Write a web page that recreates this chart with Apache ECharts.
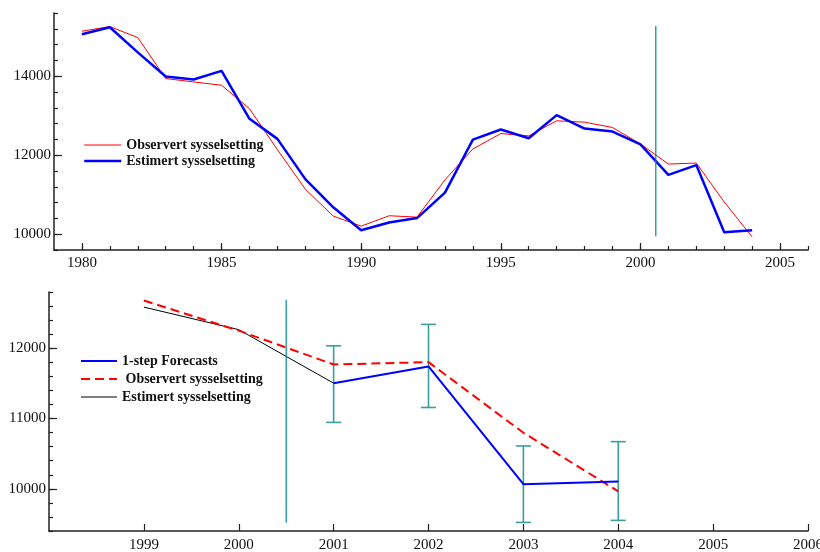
<!DOCTYPE html>
<html>
<head>
<meta charset="utf-8">
<script src="https://cdn.jsdelivr.net/npm/echarts@6/dist/echarts.min.js"></script>
<style>html,body{margin:0;padding:0;background:#fff}#c{width:820px;height:552px}</style>
</head>
<body>
<div id="c"></div>
<script>
// ---------- data ----------
const yearsTop = [1980,1981,1982,1983,1984,1985,1986,1987,1988,1989,1990,1991,1992,1993,1994,1995,1996,1997,1998,1999,2000,2001,2002,2003,2004];
const observertTop = [15139,15257,14977,13941,13855,13771,13177,12140,11139,10459,10204,10467,10433,11376,12158,12548,12489,12871,12836,12701,12285,11776,11801,10815,9932];
const estimertTop  = [15063,15240,14604,13992,13916,14136,12922,12413,11394,10680,10102,10298,10408,11052,12395,12650,12429,13014,12675,12599,12276,11503,11750,10051,10102];
const splitTop = [[2000.55, 15270], [2000.55, 9950]];

const yearsObsBottom = [1999,2000,2001,2002,2003,2004];
const observertBottom = [12679,12250,11769,11802,10798,9964];
const yearsEstBottom = [1999,2000,2001];
const estimertBottom = [12585,12264,11503];
const yearsFc = [2001,2002,2003,2004];
const forecasts = [11503,11741,10066,10105];
const errLow  = [10945,11157,9522,9551];
const errHigh = [12034,12339,10610,10671];
const splitBottom = [[2000.5, 12688], [2000.5, 9517]];

const topXLabels = [1980,1985,1990,1995,2000,2005];
const topXMinor = [1980,1981,1982,1983,1984,1985,1986,1987,1988,1989,1990,1991,1992,1993,1994,1995,1996,1997,1998,1999,2000,2001,2002,2003,2004,2005,2006];
const topYLabels = [10000,12000,14000];
const botXLabels = [1999,2000,2001,2002,2003,2004,2005,2006];
const botYLabels = [10000,11000,12000];

// ---------- helpers ----------
const zip = (xs, ys) => xs.map((x, i) => [x, ys[i]]);
const axisCol = '#222';
const serif = '"Liberation Serif", "DejaVu Serif", serif';
const labelStyle = {color: '#111', fontFamily: serif, fontSize: 15};
const legendText = {fontFamily: serif, fontWeight: 'bold', fontSize: 14, color: '#111', lineHeight: 14};

const chart = echarts.init(document.getElementById('c'), null, {renderer: 'canvas'});
chart.setOption({
  animation: false,
  backgroundColor: '#fff',
  grid: [
    {left: 54, top: 13, width: 754, height: 237, outerBoundsMode: 'none', containLabel: false},
    {left: 49, top: 292, width: 759, height: 239, outerBoundsMode: 'none', containLabel: false}
  ],
  xAxis: [
    {gridIndex: 0, type: 'value', min: 1979, max: 2006, splitLine: {show: false},
     axisLine: {lineStyle: {color: axisCol, width: 1.5}},
     axisTick: {inside: true, length: 7, customValues: topXLabels, lineStyle: {color: axisCol, width: 1.2}},
     axisLabel: {customValues: topXLabels, margin: 6, ...labelStyle, formatter: v => String(v)}},
    {gridIndex: 0, type: 'value', min: 1979, max: 2006, splitLine: {show: false}, position: 'bottom',
     axisLine: {show: false}, axisLabel: {show: false},
     axisTick: {inside: true, length: 4, customValues: topXMinor, lineStyle: {color: axisCol, width: 1.2}}},
    {gridIndex: 1, type: 'value', min: 1998, max: 2006, splitLine: {show: false},
     axisLine: {lineStyle: {color: axisCol, width: 1.5}},
     axisTick: {inside: true, length: 7, customValues: botXLabels, lineStyle: {color: axisCol, width: 1.2}},
     axisLabel: {customValues: botXLabels, margin: 7, ...labelStyle, formatter: v => String(v)}}
  ],
  yAxis: [
    {gridIndex: 0, type: 'value', min: 9600, max: 15600, splitLine: {show: false}, position: 'left',
     axisLine: {show: true, lineStyle: {color: axisCol, width: 1.5}},
     axisTick: {show: true, inside: true, length: 8, customValues: topYLabels, lineStyle: {color: axisCol, width: 1.2}},
     axisLabel: {customValues: topYLabels, margin: 3, ...labelStyle, formatter: v => String(v)}},
    {gridIndex: 0, type: 'value', min: 9600, max: 15600, interval: 400, splitLine: {show: false}, position: 'left',
     axisLine: {show: false}, axisLabel: {show: false},
     axisTick: {show: true, inside: true, length: 4, lineStyle: {color: axisCol, width: 1.2}}},
    {gridIndex: 1, type: 'value', min: 9400, max: 12800, splitLine: {show: false}, position: 'left',
     axisLine: {show: true, lineStyle: {color: axisCol, width: 1.5}},
     axisTick: {show: true, inside: true, length: 8, customValues: botYLabels, lineStyle: {color: axisCol, width: 1.2}},
     axisLabel: {customValues: botYLabels, margin: 3, ...labelStyle, formatter: v => String(v)}},
    {gridIndex: 1, type: 'value', min: 9400, max: 12800, interval: 200, splitLine: {show: false}, position: 'left',
     axisLine: {show: false}, axisLabel: {show: false},
     axisTick: {show: true, inside: true, length: 4, lineStyle: {color: axisCol, width: 1.2}}}
  ],
  legend: [
    {orient: 'vertical', left: 83, top: 138, padding: 0, itemWidth: 37, itemHeight: 14, itemGap: 2,
     itemStyle: {opacity: 0},
     data: [{name: 'Observert sysselsetting', lineStyle: {width: 1}},
            {name: 'Estimert sysselsetting', lineStyle: {width: 2.5}}],
     textStyle: legendText},
    {orient: 'vertical', left: 80, top: 354, padding: 0, itemWidth: 36, itemHeight: 14, itemGap: 4,
     itemStyle: {opacity: 0},
     data: [{name: '1-step Forecasts', lineStyle: {width: 2}},
            {name: ' Observert sysselsetting', lineStyle: {width: 2}},
            {name: 'Estimert sysselsetting ', lineStyle: {width: 1}}],
     textStyle: legendText}
  ],
  series: [
    {name: 'Observert sysselsetting', type: 'line', xAxisIndex: 0, yAxisIndex: 0, data: zip(yearsTop, observertTop),
     symbol: 'none', lineStyle: {color: '#ff0000', width: 1}, itemStyle: {color: '#ff0000'}},
    {name: 'Estimert sysselsetting', type: 'line', xAxisIndex: 0, yAxisIndex: 0, data: zip(yearsTop, estimertTop),
     symbol: 'none', lineStyle: {color: '#0000ff', width: 2.5}, itemStyle: {color: '#0000ff'}},
    {name: 'splitTop', type: 'line', xAxisIndex: 0, yAxisIndex: 0, data: splitTop,
     symbol: 'none', lineStyle: {color: '#008b8b', width: 1.2}, silent: true},

    {name: 'Estimert sysselsetting ', type: 'line', xAxisIndex: 2, yAxisIndex: 2, data: zip(yearsEstBottom, estimertBottom),
     symbol: 'none', lineStyle: {color: '#000', width: 1}, itemStyle: {color: '#000'}},
    {name: ' Observert sysselsetting', type: 'line', xAxisIndex: 2, yAxisIndex: 2, data: zip(yearsObsBottom, observertBottom),
     symbol: 'none', lineStyle: {color: '#ff0000', width: 2, type: [9, 5]}, itemStyle: {color: '#ff0000'}},
    {name: '1-step Forecasts', type: 'line', xAxisIndex: 2, yAxisIndex: 2, data: zip(yearsFc, forecasts),
     symbol: 'none', lineStyle: {color: '#0000ff', width: 2}, itemStyle: {color: '#0000ff'}},
    {name: 'errorbars', type: 'custom', xAxisIndex: 2, yAxisIndex: 2, silent: true,
     data: yearsFc.map((y, i) => [y, errLow[i], errHigh[i]]),
     renderItem: (params, api) => {
       const lo = api.coord([api.value(0), api.value(1)]);
       const hi = api.coord([api.value(0), api.value(2)]);
       const w = 7.5;
       const st = {stroke: '#3a9e9e', lineWidth: 1.6};
       return {type: 'group', children: [
         {type: 'line', shape: {x1: lo[0], y1: lo[1], x2: hi[0], y2: hi[1]}, style: st},
         {type: 'line', shape: {x1: lo[0]-w, y1: lo[1], x2: lo[0]+w, y2: lo[1]}, style: st},
         {type: 'line', shape: {x1: hi[0]-w, y1: hi[1], x2: hi[0]+w, y2: hi[1]}, style: st}
       ]};
     }},
    {name: 'splitBottom', type: 'line', xAxisIndex: 2, yAxisIndex: 2, data: splitBottom,
     symbol: 'none', lineStyle: {color: '#008b8b', width: 1.2}, silent: true}
  ]
});
</script>
</body>
</html>
